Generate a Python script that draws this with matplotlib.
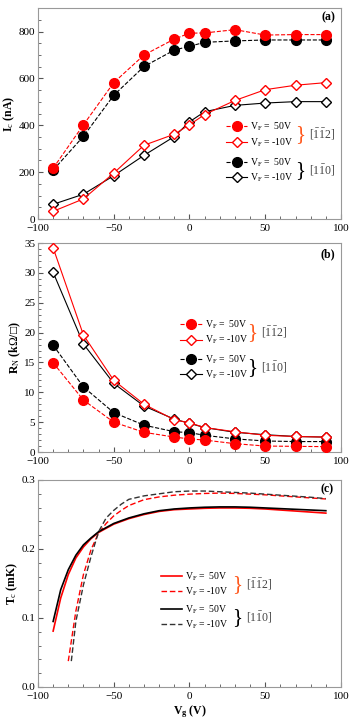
"""Ic, RN and Tc versus gate voltage for the two crystal directions."""
import matplotlib
matplotlib.use('Agg')
import matplotlib.pyplot as plt
from matplotlib.ticker import MultipleLocator

plt.rcParams['font.family'] = ['Liberation Serif', 'DejaVu Sans']
plt.rcParams['mathtext.fontset'] = 'custom'
plt.rcParams['mathtext.rm'] = 'Liberation Serif'
plt.rcParams['mathtext.it'] = 'Liberation Serif:italic'
plt.rcParams['mathtext.bf'] = 'Liberation Serif:bold'

# gate voltages of the measured points (V)
vg = [-90, -70, -50, -30, -10, 0, 10, 30, 50, 70, 90]

# (a) critical current (nA)
ic_112_50 = [217, 402, 582, 700, 768, 793, 794, 808, 785, 787, 787]
ic_112_m10 = [33, 86, 196, 315, 362, 402, 446, 506, 552, 571, 582]
ic_110_50 = [209, 353, 528, 651, 721, 737, 754, 760, 764, 764, 764]
ic_110_m10 = [63, 106, 185, 272, 352, 415, 458, 485, 495, 501, 501]

# (b) normal state resistance (kOhm/sq)
rn_112_50 = [14.95, 8.7, 5.0, 3.3, 2.5, 2.2, 2.0, 1.4, 1.0, 0.95, 0.9]
rn_112_m10 = [34.2, 19.6, 12.0, 8.0, 5.4, 4.9, 4.1, 3.4, 2.8, 2.6, 2.5]
rn_110_50 = [17.9, 10.9, 6.6, 4.5, 3.4, 3.25, 2.8, 2.2, 1.85, 1.75, 1.75]
rn_110_m10 = [30.1, 18.1, 11.5, 7.7, 5.5, 4.8, 4.1, 3.3, 2.9, 2.6, 2.5]

# (c) critical temperature curves (mK)
vg_solid = [-90, -85, -80, -75, -70, -65, -60, -50, -40, -30, -20,
            -10, 0, 10, 20, 30, 40, 50, 60, 70, 80, 90]
tc_110_50 = [0.095, 0.141, 0.170, 0.191, 0.206, 0.216, 0.225, 0.237,
             0.245, 0.251, 0.2555, 0.258, 0.2595, 0.2605, 0.261, 0.261,
             0.2605, 0.2595, 0.2585, 0.2575, 0.2565, 0.2555]
tc_112_50 = [0.081, 0.129, 0.163, 0.187, 0.203, 0.215, 0.224, 0.236,
             0.244, 0.250, 0.2545, 0.257, 0.258, 0.259, 0.2595, 0.2595,
             0.259, 0.258, 0.2565, 0.255, 0.2535, 0.252]
vg_110_dash = [-78, -75, -70, -65, -60, -55, -50, -45, -40, -30, -20,
               -10, 0, 10, 20, 30, 40, 50, 60, 70, 80, 90]
tc_110_m10 = [0.0375, 0.095, 0.148, 0.189, 0.225, 0.245, 0.256, 0.265,
              0.272, 0.277, 0.280, 0.283, 0.284, 0.284, 0.283, 0.282,
              0.281, 0.2795, 0.278, 0.2765, 0.275, 0.273]
vg_112_dash = [-80, -75, -70, -65, -60, -55, -50, -45, -40, -30, -20,
               -10, 0, 10, 20, 30, 40, 50, 60, 70, 80, 90]
tc_112_m10 = [0.0375, 0.110, 0.163, 0.199, 0.223, 0.237, 0.248, 0.256,
              0.263, 0.2715, 0.2755, 0.278, 0.2795, 0.2805, 0.281, 0.2805,
              0.2795, 0.2785, 0.277, 0.2755, 0.274, 0.2725]

lab_50 = r'V$_\mathrm{F}$ =  50V'
lab_m10 = r'V$_\mathrm{F}$ = -10V'
dir_112 = r'$[\bar{1}\bar{1}2]$'
dir_110 = r'$[1\bar{1}0]$'

RED = '#ff0000'
BRACE = '#ff5a1f'
SPINE = '#999999'

fig = plt.figure(figsize=(3.54, 7.23), dpi=100)
ax_a = fig.add_axes([0.1073, 0.697, 0.856, 0.2918])
ax_b = fig.add_axes([0.1073, 0.3748, 0.856, 0.289])
ax_c = fig.add_axes([0.1073, 0.0498, 0.856, 0.2863])


def style(ax, ymax, ymaj, ymin):
    ax.set_xlim(-100, 100)
    ax.set_ylim(0, ymax)
    ax.xaxis.set_major_locator(MultipleLocator(50))
    ax.xaxis.set_minor_locator(MultipleLocator(10))
    ax.yaxis.set_major_locator(MultipleLocator(ymaj))
    ax.yaxis.set_minor_locator(MultipleLocator(ymin))
    ax.tick_params(which='both', direction='in', labelsize=8,
                   color='#555555')
    ax.tick_params(axis='y', pad=2)
    ax.tick_params(axis='x', pad=3.5)
    ax.tick_params(which='major', length=3.5)
    ax.tick_params(which='minor', length=2)
    for sp in ax.spines.values():
        sp.set_color(SPINE)


def marker_panel(ax, d112_50, d112_m10, d110_50, d110_m10):
    h1, = ax.plot(vg, d112_50, '--', color=RED, lw=0.8, marker='o', ms=7,
                  mfc=RED, mec=RED, label=lab_50, zorder=3)
    h2, = ax.plot(vg, d112_m10, '-', color=RED, lw=0.8, marker='D', ms=5,
                  mfc='white', mec=RED, label=lab_m10, zorder=3)
    h3, = ax.plot(vg, d110_50, '--', color='black', lw=0.8, marker='o', ms=7,
                  mfc='black', mec='black', label=lab_50, zorder=2)
    h4, = ax.plot(vg, d110_m10, '-', color='black', lw=0.8, marker='D', ms=5,
                  mfc='white', mec='black', label=lab_m10, zorder=2)
    return [h1, h2], [h3, h4]


def legends(ax, groups, x, ys, xbrace, xdir):
    for i, (hs, y, dname, bcol) in enumerate(zip(groups, ys,
                                                 [dir_112, dir_110],
                                                 [BRACE, 'black'])):
        leg = ax.legend(handles=hs, loc='center left', bbox_to_anchor=(x, y),
                        frameon=False, fontsize=7, handlelength=2.2,
                        handletextpad=0.3, labelspacing=0.3, borderpad=0,
                        borderaxespad=0)
        if i == 0:
            ax.add_artist(leg)
        ax.text(xbrace, y, '}', transform=ax.transAxes, fontsize=15,
                color=bcol, ha='left', va='center')
        ax.text(xdir, y, dname, transform=ax.transAxes, fontsize=8.5,
                color='#444444', ha='left', va='center')


# (a)
g1, g2 = marker_panel(ax_a, ic_112_50, ic_112_m10, ic_110_50, ic_110_m10)
style(ax_a, 900, 200, 50)
ax_a.set_ylabel(r'I$_\mathrm{c}$ (nA)', fontsize=8.5, fontweight='bold',
                labelpad=1)
ax_a.text(0.98, 0.955, '(a)', transform=ax_a.transAxes, ha='right',
          va='center', fontsize=8.5, fontweight='bold')
legends(ax_a, [g1, g2], 0.62, [0.40, 0.232], 0.85, 0.895)

# (b)
g1, g2 = marker_panel(ax_b, rn_112_50, rn_112_m10, rn_110_50, rn_110_m10)
style(ax_b, 35, 5, 1)
ax_b.set_ylabel(r'R$_\mathrm{N}$ (k$\Omega$/□)', fontsize=8.5,
                fontweight='bold', labelpad=1)
ax_b.text(0.98, 0.945, '(b)', transform=ax_b.transAxes, ha='right',
          va='center', fontsize=8.5, fontweight='bold')
legends(ax_b, [g1, g2], 0.47, [0.572, 0.405], 0.69, 0.735)

# (c)
c1, = ax_c.plot(vg_solid, tc_112_50, '-', color=RED, lw=1.2, label=lab_50)
c2, = ax_c.plot(vg_112_dash, tc_112_m10, color=RED, lw=1.0, ls=(0, (4, 2)),
                label=lab_m10)
c3, = ax_c.plot(vg_solid, tc_110_50, '-', color='black', lw=1.2,
                label=lab_50)
c4, = ax_c.plot(vg_110_dash, tc_110_m10, color='#333333', lw=1.0,
                ls=(0, (4, 2)), label=lab_m10)
style(ax_c, 0.3, 0.1, 0.02)
ax_c.set_ylabel(r'T$_\mathrm{c}$ (mK)', fontsize=8.5, fontweight='bold',
                labelpad=1)
ax_c.set_xlabel(r'V$_\mathbf{g}$ (V)', fontsize=8.5, fontweight='bold',
                labelpad=2)
ax_c.text(0.975, 0.955, '(c)', transform=ax_c.transAxes, ha='right',
          va='center', fontsize=8.5, fontweight='bold')
legends(ax_c, [[c1, c2], [c3, c4]], 0.405, [0.497, 0.337], 0.64, 0.685)

fig.savefig('out.png', dpi=100)
